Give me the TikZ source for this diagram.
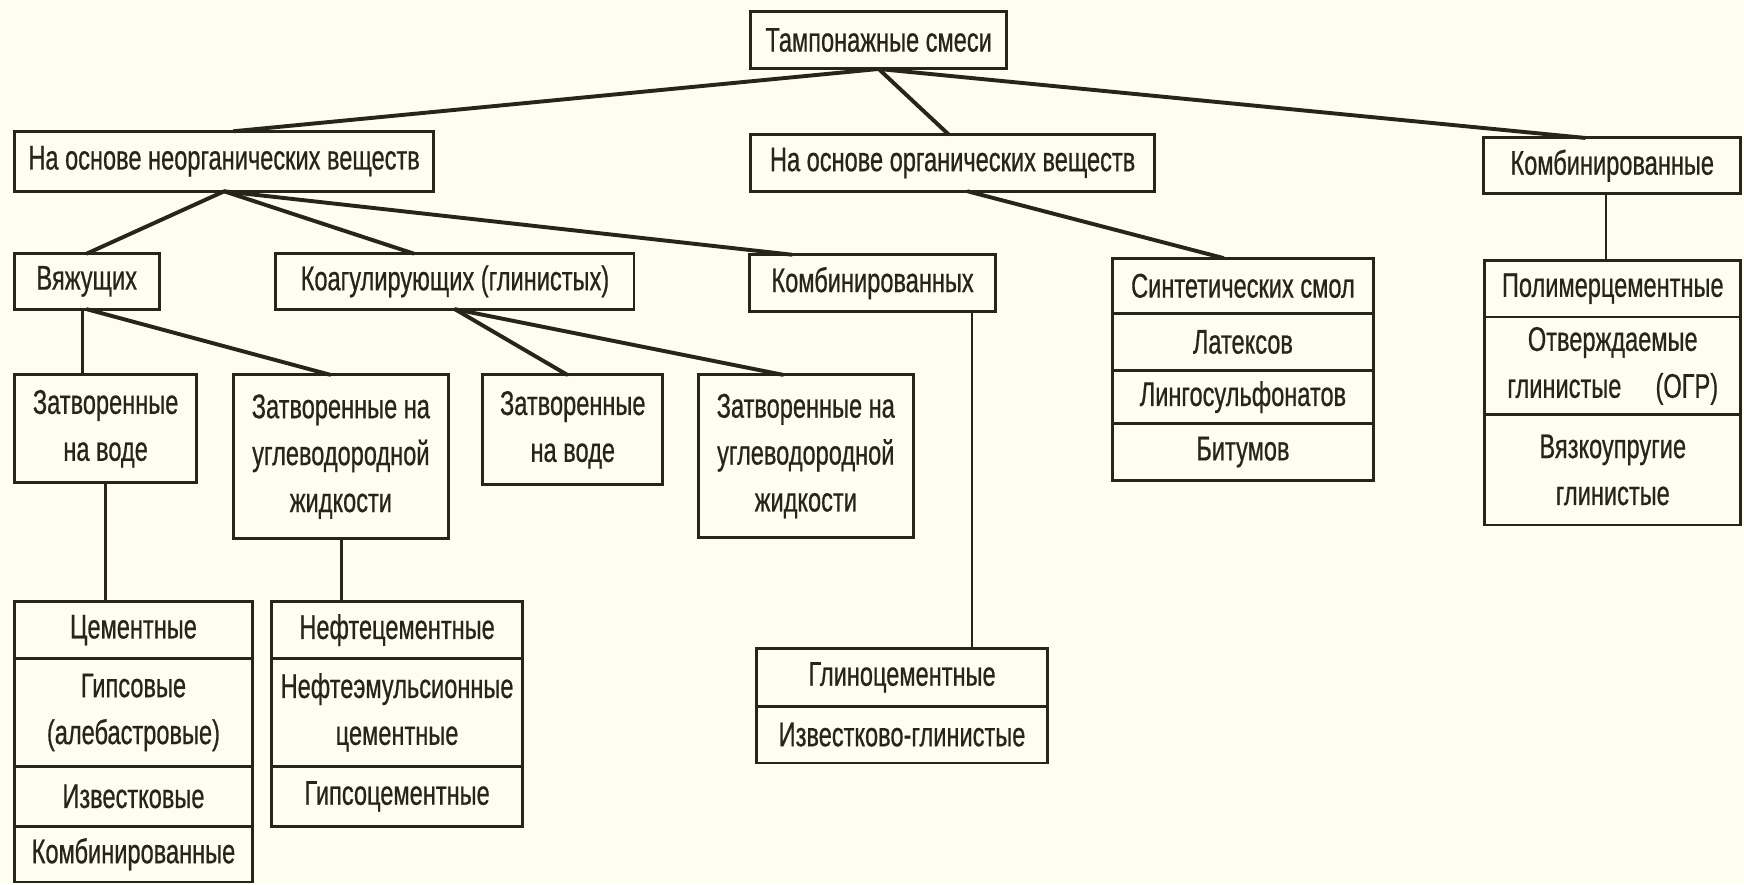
\documentclass[tikz,border=0pt]{standalone}
\usepackage{fontspec}
\setmainfont{Liberation Sans}[FakeStretch=0.69, FakeBold=0.6]
\definecolor{ink}{HTML}{25251A}
\definecolor{paper}{HTML}{FEFDF2}
% a box given by its two corners: name, x1, y1, x2, y2, text
\newcommand\cellbox[6]{%
  \pgfmathsetmacro\cellw{(#4-#2)*0.02}%
  \pgfmathsetmacro\cellh{(#5-#3)*0.02}%
  \node[cell, minimum width=\cellw cm, minimum height=\cellh cm]
    (#1) at ({(#2+#4)/2},{(#3+#5)/2}) {#6};}
\begin{document}
\begin{tikzpicture}[x=0.02cm, y=-0.02cm,
  cell/.style={draw=ink, line width=1.5pt, fill=paper, inner sep=0pt, outer sep=0pt,
    align=center, text=ink, font=\fontsize{17.5}{24}\selectfont},
  link/.style={draw=ink, line width=2pt, line cap=round},
  vlink/.style={draw=ink, line width=1.4pt}]
\fill[paper] (0,0) rectangle (1568,795);
\useasboundingbox (0,0) rectangle (1568,795);

% top levels
\cellbox{root}{675}{10}{905}{62}{Тампонажные смеси}
\cellbox{inorg}{13}{118}{390}{172}{На основе неорганических веществ}
\cellbox{org}{675}{121}{1038}{172}{На основе органических веществ}
\cellbox{comb}{1334}{124}{1565}{174}{Комбинированные}

% inorganic groups
\cellbox{vyazh}{13}{228}{143}{278}{Вяжущих}
\cellbox{koag}{248}{228}{570}{278}{Коагулирующих (глинистых)}
\cellbox{kombx}{674}{229}{895}{280}{Комбинированных}

% mixing fluids
\cellbox{zv1}{13}{337}{177}{434}{Затворенные\\на воде}
\cellbox{zu1}{210}{337}{403}{484}{Затворенные на\\углеводородной\\жидкости}
\cellbox{zv2}{434}{337}{596}{436}{Затворенные\\на воде}
\cellbox{zu2}{628}{337}{821}{483}{Затворенные на\\углеводородной\\жидкости}

% organic stack
\cellbox{syn1}{1000}{232}{1235}{282}{Синтетических смол}
\cellbox{syn2}{1000}{282}{1235}{333}{Латексов}
\cellbox{syn3}{1000}{333}{1235}{381}{Лингосульфонатов}
\cellbox{syn4}{1000}{381}{1235}{432}{Битумов}

% combined stack
\cellbox{rs1}{1335}{234}{1565}{285}{Полимерцементные}
\cellbox{rs2}{1335}{285}{1565}{373}{Отверждаемые\\глинистые\quad(ОГР)}
\cellbox{rs3}{1335}{373}{1565}{472}{Вязкоупругие\\глинистые}

% water-based binders
\cellbox{cem1}{13}{541}{227}{592}{Цементные}
\cellbox{cem2}{13}{592}{227}{689}{Гипсовые\\(алебастровые)}
\cellbox{cem3}{13}{689}{227}{743}{Известковые}
\cellbox{cem4}{13}{743}{227}{793}{Комбинированные}

% hydrocarbon-based binders
\cellbox{nef1}{244}{541}{470}{592}{Нефтецементные}
\cellbox{nef2}{244}{592}{470}{689}{Нефтеэмульсионные\\цементные}
\cellbox{nef3}{244}{689}{470}{743}{Гипсоцементные}

% combined inorganic
\cellbox{gl1}{680}{583}{942}{635}{Глиноцементные}
\cellbox{gl2}{680}{635}{942}{686}{Известково-глинистые}

% where the connectors meet the boxes
\coordinate (xInorgIn) at (210,0);
\coordinate (xOrgIn) at (853,0);
\coordinate (xCombIn) at (1425,0);
\coordinate (xKoagIn) at (372,0);
\coordinate (xKombIn) at (712,0);
\coordinate (xZuA) at (297,0);
\coordinate (xZvB) at (510,0);
\coordinate (xZuB) at (704,0);
\coordinate (xOrgOut) at (870,0);
\coordinate (xSynIn) at (1100,0);
\coordinate (xVa) at (74,0);
\coordinate (xVb) at (95,0);
\coordinate (xVc) at (307,0);
\coordinate (xVd) at (874,0);
\coordinate (xVe) at (1444,0);

\draw[link] (root.south) -- (inorg.north -| xInorgIn);
\draw[link] (root.south) -- (org.north -| xOrgIn);
\draw[link] (root.south) -- (comb.north -| xCombIn);
\draw[link] (inorg.south) -- (vyazh.north);
\draw[link] (inorg.south) -- (koag.north -| xKoagIn);
\draw[link] (inorg.south) -- (kombx.north -| xKombIn);
\draw[link] (vyazh.south) -- (zu1.north -| xZuA);
\draw[vlink] (vyazh.south -| xVa) -- (zv1.north -| xVa);
\draw[link] (koag.south) -- (zv2.north -| xZvB);
\draw[link] (koag.south) -- (zu2.north -| xZuB);
\draw[link] (org.south -| xOrgOut) -- (syn1.north -| xSynIn);
\draw[vlink] (comb.south -| xVe) -- (rs1.north -| xVe);
\draw[vlink] (zv1.south -| xVb) -- (cem1.north -| xVb);
\draw[vlink] (zu1.south -| xVc) -- (nef1.north -| xVc);
\draw[vlink] (kombx.south -| xVd) -- (gl1.north -| xVd);
\end{tikzpicture}
\end{document}
